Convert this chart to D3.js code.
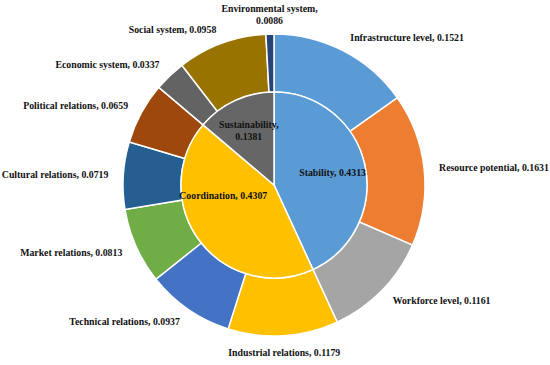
<!DOCTYPE html>
<html>
<head>
<meta charset="utf-8">
<script src="https://cdn.jsdelivr.net/npm/d3@7"></script>
<style>
  html, body { margin: 0; padding: 0; background: #fff; }
  svg { display: block; }
  text { font-family: "Palatino Linotype", "Book Antiqua", "Liberation Serif", "DejaVu Serif", serif; font-weight: bold; fill: #111; }
</style>
</head>
<body>
<svg id="chart" width="550" height="365"></svg>
<script>
// ---- data ----
const innerNames  = ["Stability", "Coordination", "Sustainability"];
const innerValues = [0.4313, 0.4307, 0.1381];
const innerColors = ["#5B9BD5", "#FFC000", "#666666"];

const outerNames  = ["Infrastructure level", "Resource potential", "Workforce level",
                     "Industrial relations", "Technical relations", "Market relations",
                     "Cultural relations", "Political relations",
                     "Economic system", "Social system", "Environmental system"];
const outerValues = [0.1521, 0.1631, 0.1161,
                     0.1179, 0.0937, 0.0813, 0.0719, 0.0659,
                     0.0337, 0.0958, 0.0086];
const outerColors = ["#5B9BD5", "#ED7D31", "#A5A5A5",
                     "#FFC000", "#4472C4", "#70AD47", "#255E91", "#9E480E",
                     "#636363", "#997300", "#264478"];

// ---- layout ----
const svg = d3.select("#chart");
const cx = 274, cy = 185;
const rInner = 93, rOuter = 151, rLabel = 166, rInnerLabel = 60;
const g = svg.append("g").attr("transform", `translate(${cx},${cy})`);

const pie = d3.pie().sort(null).value(d => d.v);

const innerData = pie(innerNames.map((n, i) => ({ n, v: innerValues[i], c: innerColors[i] })));
const outerData = pie(outerNames.map((n, i) => ({ n, v: outerValues[i], c: outerColors[i] })));

const arcInner = d3.arc().innerRadius(0).outerRadius(rInner);
const arcOuter = d3.arc().innerRadius(rInner).outerRadius(rOuter);

g.selectAll("path.outer").data(outerData).join("path")
  .attr("class", "outer")
  .attr("d", arcOuter)
  .attr("fill", d => d.data.c)
  .attr("stroke", "#fff").attr("stroke-width", 1.5);

g.selectAll("path.inner").data(innerData).join("path")
  .attr("class", "inner")
  .attr("d", arcInner)
  .attr("fill", d => d.data.c)
  .attr("stroke", "#fff").attr("stroke-width", 1.5);

const fmt = d3.format(".4f");
const fs = 9.8;
const lh = 12.3;

// outer labels: placed at the mid-angle, anchored at nearest edge
outerData.forEach(d => {
  const a = (d.startAngle + d.endAngle) / 2;
  const deg = a * 180 / Math.PI;
  const x = rLabel * Math.sin(a), y = -rLabel * Math.cos(a);
  let anchor, lines;
  if (deg > 20 && deg < 160) anchor = "start";
  else if (deg > 200 && deg < 340) anchor = "end";
  else anchor = "middle";
  if (anchor === "middle" && Math.cos(a) > 0) lines = [`${d.data.n},`, fmt(d.data.v)];
  else lines = [`${d.data.n}, ${fmt(d.data.v)}`];
  const t = g.append("text").attr("text-anchor", anchor).attr("font-size", fs);
  let y0;
  if (anchor === "middle") {
    if (Math.cos(a) > 0) y0 = y - (lines.length - 1) * lh + 5;   // above point
    else y0 = y + 5;                                             // below point
  } else {
    y0 = y + 3.4;
  }
  lines.forEach((l, i) => t.append("tspan").attr("x", x).attr("y", y0 + i * lh).text(l));
});

// inner labels
const innerNudge = { "Coordination": [-3, -26] };
innerData.forEach(d => {
  const a = (d.startAngle + d.endAngle) / 2;
  const nd = innerNudge[d.data.n] || [0, 0];
  const x = rInnerLabel * Math.sin(a) + nd[0], y = -rInnerLabel * Math.cos(a) + nd[1];
  const narrow = (d.endAngle - d.startAngle) < 1.0;
  const lines = narrow ? [`${d.data.n},`, fmt(d.data.v)] : [`${d.data.n}, ${fmt(d.data.v)}`];
  const t = g.append("text").attr("text-anchor", "middle").attr("font-size", fs);
  const y0 = y + 3.4 - (lines.length - 1) * lh / 2;
  lines.forEach((l, i) => t.append("tspan").attr("x", x).attr("y", y0 + i * lh).text(l));
});
</script>
</body>
</html>
